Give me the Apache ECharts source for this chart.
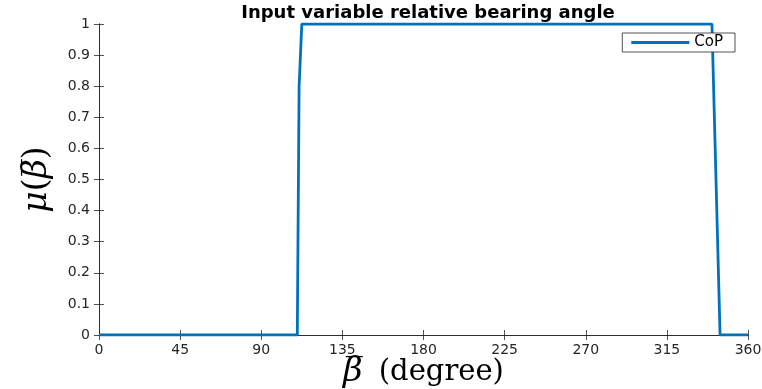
<!DOCTYPE html>
<html><head><meta charset="utf-8">
<script src="https://cdn.jsdelivr.net/npm/echarts@6/dist/echarts.min.js"></script>
<style>html,body{margin:0;padding:0;background:#fff}#c{width:762px;height:389px}</style>
</head><body><div id="c"></div>
<script>
const titleText = 'Input variable relative bearing angle';
const seriesName = 'CoP';
const xVals = [0, 110, 111, 112.5, 340, 344.5, 360];
const yVals = [0, 0, 0.8, 1, 1, 0, 0];
const xTicks = [0, 45, 90, 135, 180, 225, 270, 315, 360];
const yTicks = [0, 0.1, 0.2, 0.3, 0.4, 0.5, 0.6, 0.7, 0.8, 0.9, 1];

const axisCol = '#262626';
const font = 'DejaVu Sans, sans-serif';
const serif = 'DejaVu Serif, serif';
const chart = echarts.init(document.getElementById('c'));
const commonAxis = {
  axisLine: {show: true, lineStyle: {color: axisCol, width: 0.8}},
  axisTick: {show: true, inside: true, length: 5, lineStyle: {color: axisCol, width: 0.8}},
  splitLine: {show: false}
};
chart.setOption({
  animation: false,
  backgroundColor: '#fff',
  title: {text: titleText, left: 423, textAlign: 'center', top: -1,
    textStyle: {fontFamily: font, fontWeight: 'bold', fontSize: 18, color: '#000'}},
  legend: {
    data: [{name: seriesName, icon: 'rect'}], right: 27, top: 33,
    itemWidth: 58, itemHeight: 3, itemGap: 5,
    borderColor: axisCol, borderWidth: 0.8, backgroundColor: '#fff',
    borderRadius: 0,
    padding: [2, 12, 2, 9],
    textStyle: {fontFamily: font, fontSize: 15, color: '#000'}
  },
  grid: {left: 99, right: 14, top: 24, bottom: 54, containLabel: false, outerBoundsMode: 'none'},
  xAxis: [
    Object.assign({type: 'value', min: xTicks[0], max: xTicks[xTicks.length-1], interval: 45,
      axisLabel: {fontFamily: font, fontSize: 14, color: axisCol, margin: 8},
      name: '{b|β\u0305}{s| }{d|(degree)}', nameLocation: 'middle', nameGap: 20,
      nameMoveOverlap: false,
      nameTextStyle: {verticalAlign: 'top', rich: {
        b: {fontFamily: serif, fontStyle: 'italic', fontSize: 34, color: '#000'},
        s: {fontSize: 30, width: 16},
        d: {fontFamily: serif, fontSize: 29, color: '#000'}}}
    }, commonAxis),
    Object.assign({type: 'value', position: 'top', min: 0, max: 360, interval: 45,
      axisLabel: {show: false}}, commonAxis)
  ],
  yAxis: [
    Object.assign({type: 'value', min: yTicks[0], max: yTicks[yTicks.length-1], interval: 0.1,
      axisLabel: {fontFamily: font, fontSize: 14, color: axisCol, margin: 9,
        formatter: v => String(Math.round(v * 10) / 10)},
      name: '{i|μ}{p|(}{i|β\u0305}{p|)}', nameLocation: 'middle', nameRotate: 90, nameGap: 45,
      nameMoveOverlap: false,
      nameTextStyle: {rich: {
        i: {fontFamily: serif, fontStyle: 'italic', fontSize: 33, color: '#000'},
        p: {fontFamily: serif, fontSize: 33, color: '#000'}}}
    }, commonAxis),
    Object.assign({type: 'value', position: 'right', min: 0, max: 1, interval: 0.1,
      axisLabel: {show: false}}, commonAxis)
  ],
  series: [{
    name: seriesName, type: 'line', symbol: 'none',
    data: xVals.map((x, i) => [x, yVals[i]]),
    lineStyle: {color: '#0072BD', width: 2.8},
    itemStyle: {color: '#0072BD'},
    z: 1
  }]
});
</script></body></html>
